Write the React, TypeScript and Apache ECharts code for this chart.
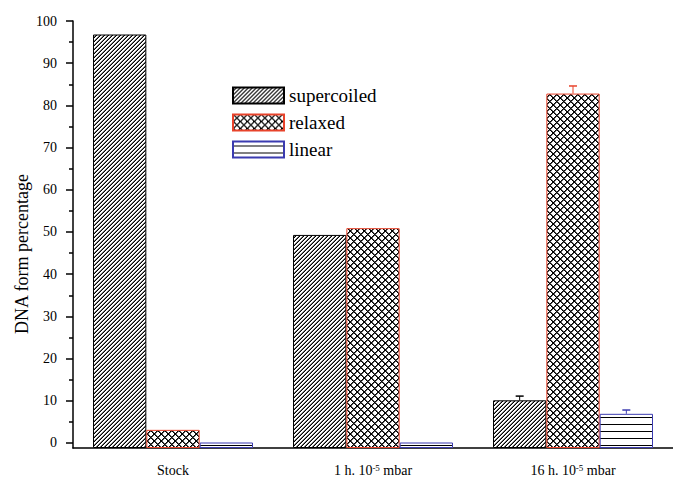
import React, { useEffect, useRef } from 'react';
import * as echarts from 'echarts';

const categories = ['Stock', '1 h. 10{sup|-5} mbar', '16 h. 10{sup|-5} mbar'];
const seriesNames = ['supercoiled', 'relaxed', 'linear'];
const supercoiled = [96.8, 49.3, 10.1];
const relaxed = [3.1, 50.9, 82.8];
const linear = [0.1, 0.1, 6.9];
const supercoiledErr = [0, 0, 1.0];
const relaxedErr = [0, 0, 1.8];
const linearErr = [0, 0, 0.9];
const yMajorTicks = [0, 10, 20, 30, 40, 50, 60, 70, 80, 90, 100];
const yMinorTicks = [5, 15, 25, 35, 45, 55, 65, 75, 85, 95];

const FONT = "'Liberation Serif', 'Times New Roman', serif";
const RED = '#e8432b';
const BLUE = '#3b3bb0';

function makeTile(w: number, h: number, pixels: [number, number, string][]) {
  const c = document.createElement('canvas');
  c.width = w;
  c.height = h;
  const ctx = c.getContext('2d')!;
  ctx.fillStyle = '#ffffff';
  ctx.fillRect(0, 0, w, h);
  for (const [x, y, col] of pixels) {
    ctx.fillStyle = col;
    ctx.fillRect(x, y, 1, 1);
  }
  return { image: c, repeat: 'repeat', imageWidth: w, imageHeight: h } as any;
}

function diagonalPattern() {
  const px: [number, number, string][] = [];
  const n = 4;
  for (let y = 0; y < n; y++) {
    for (let x = 0; x < n; x++) {
      const k = (x + y) % n;
      if (k === 3) px.push([x, y, '#000']);
      else if (k === 2) px.push([x, y, '#777']);
    }
  }
  return makeTile(n, n, px);
}

function crossPattern() {
  const px: [number, number, string][] = [];
  const n = 7;
  for (let i = 0; i < n; i++) {
    px.push([(i + 1) % n, i, '#555']);
    px.push([(n - i) % n, i, '#555']);
  }
  for (let i = 0; i < n; i++) {
    px.push([i, i, '#000']);
    px.push([n - 1 - i, i, '#000']);
  }
  return makeTile(n, n, px);
}

function horizontalPattern() {
  const px: [number, number, string][] = [];
  for (let x = 0; x < 4; x++) px.push([x, 4, '#000']);
  return makeTile(4, 7, px);
}

function errorSeries(name: string, idx: number, values: number[], errs: number[], color: string) {
  return {
    type: 'custom',
    name: name + '-err',
    z: 5,
    encode: { x: 0, y: 1 },
    data: values.map((v, i) => [i, v, errs[i]]).filter((d) => d[2] > 0),
    renderItem: (params: any, api: any) => {
      const cat = api.value(0);
      const v = api.value(1);
      const e = api.value(2);
      const base = api.coord([cat, v]);
      const top = api.coord([cat, v + e]);
      const band = api.size([1, 0])[0];
      const bw = (band * 0.8) / 3;
      const x = base[0] + (idx - 1) * bw;
      return {
        type: 'group',
        children: [
          { type: 'line', shape: { x1: x, y1: base[1], x2: x, y2: top[1] }, style: { stroke: color, lineWidth: 1 } },
          { type: 'line', shape: { x1: x - 4, y1: top[1], x2: x + 4, y2: top[1] }, style: { stroke: color, lineWidth: 1.5 } },
        ],
      };
    },
  };
}

export default function App() {
  const ref = useRef<HTMLDivElement>(null);
  useEffect(() => {
    document.body.style.margin = '0';
    const chart = echarts.init(ref.current!, null, { renderer: 'svg' });
    const option: any = {
      animation: false,
      backgroundColor: '#ffffff',
      textStyle: { fontFamily: FONT },
      grid: { left: 73, top: 21, width: 603, bottom: 27, containLabel: false },
      legend: {
        data: seriesNames,
        orient: 'vertical',
        left: 232,
        top: 86,
        padding: 0,
        icon: 'rect',
        itemWidth: 51,
        itemHeight: 16,
        itemGap: 8,
        textStyle: { fontFamily: FONT, fontSize: 19, lineHeight: 17, color: '#000' },
      },
      graphic: [
        {
          type: 'text',
          x: 22,
          y: 254,
          rotation: Math.PI / 2,
          style: {
            text: 'DNA form percentage',
            font: `18px ${FONT}`,
            fill: '#000',
            align: 'center',
            verticalAlign: 'middle',
          },
        },
      ],
      xAxis: [
        {
          type: 'category',
          data: categories,
          axisLine: { onZero: false, lineStyle: { color: '#000', width: 1.5 } },
          axisTick: { alignWithLabel: true, length: 7, lineStyle: { color: '#000', width: 1.5 } },
          axisLabel: {
            fontFamily: FONT,
            fontSize: 14,
            color: '#000',
            margin: 15,
            lineHeight: 14,
            rich: {
              sup: { fontFamily: FONT, fontSize: 9, color: '#000', verticalAlign: 'top', lineHeight: 9 },
            },
          },
        },
        {
          type: 'category',
          data: categories,
          position: 'bottom',
          axisLine: { show: false, onZero: false },
          axisTick: { length: 4, lineStyle: { color: '#000', width: 1.5 } },
          axisLabel: { show: false },
        },
      ],
      yAxis: [
        {
          type: 'value',
          min: -1.2,
          max: 100,
          startValue: -1.2,
          splitLine: { show: false },
          axisLine: { show: true, lineStyle: { color: '#000', width: 1.5 } },
          axisTick: { show: true, length: 7, customValues: yMajorTicks, lineStyle: { color: '#000', width: 1.5 } },
          axisLabel: { customValues: yMajorTicks, fontFamily: FONT, fontSize: 14, color: '#000', margin: 16 },
        },
        {
          type: 'value',
          min: -1.2,
          max: 100,
          position: 'left',
          offset: 0,
          splitLine: { show: false },
          axisLine: { show: false },
          axisTick: { show: true, length: 4, customValues: yMinorTicks, lineStyle: { color: '#000', width: 1.5 } },
          axisLabel: { show: false },
        },
      ],
      series: [
        {
          name: 'supercoiled',
          type: 'bar',
          data: supercoiled,
          barGap: '0%',
          barCategoryGap: '20%',
          itemStyle: { color: diagonalPattern(), borderColor: '#000', borderWidth: 1 },
        },
        {
          name: 'relaxed',
          type: 'bar',
          data: relaxed,
          barGap: '0%',
          barCategoryGap: '20%',
          itemStyle: { color: crossPattern(), borderColor: RED, borderWidth: 1 },
        },
        {
          name: 'linear',
          type: 'bar',
          data: linear,
          barGap: '0%',
          barCategoryGap: '20%',
          itemStyle: { color: horizontalPattern(), borderColor: BLUE, borderWidth: 1 },
        },
        errorSeries('supercoiled', 0, supercoiled, supercoiledErr, '#000'),
        errorSeries('relaxed', 1, relaxed, relaxedErr, RED),
        errorSeries('linear', 2, linear, linearErr, BLUE),
      ],
    };
    chart.setOption(option);
    return () => chart.dispose();
  }, []);
  return <div ref={ref} style={{ width: 673, height: 477 }} />;
}
